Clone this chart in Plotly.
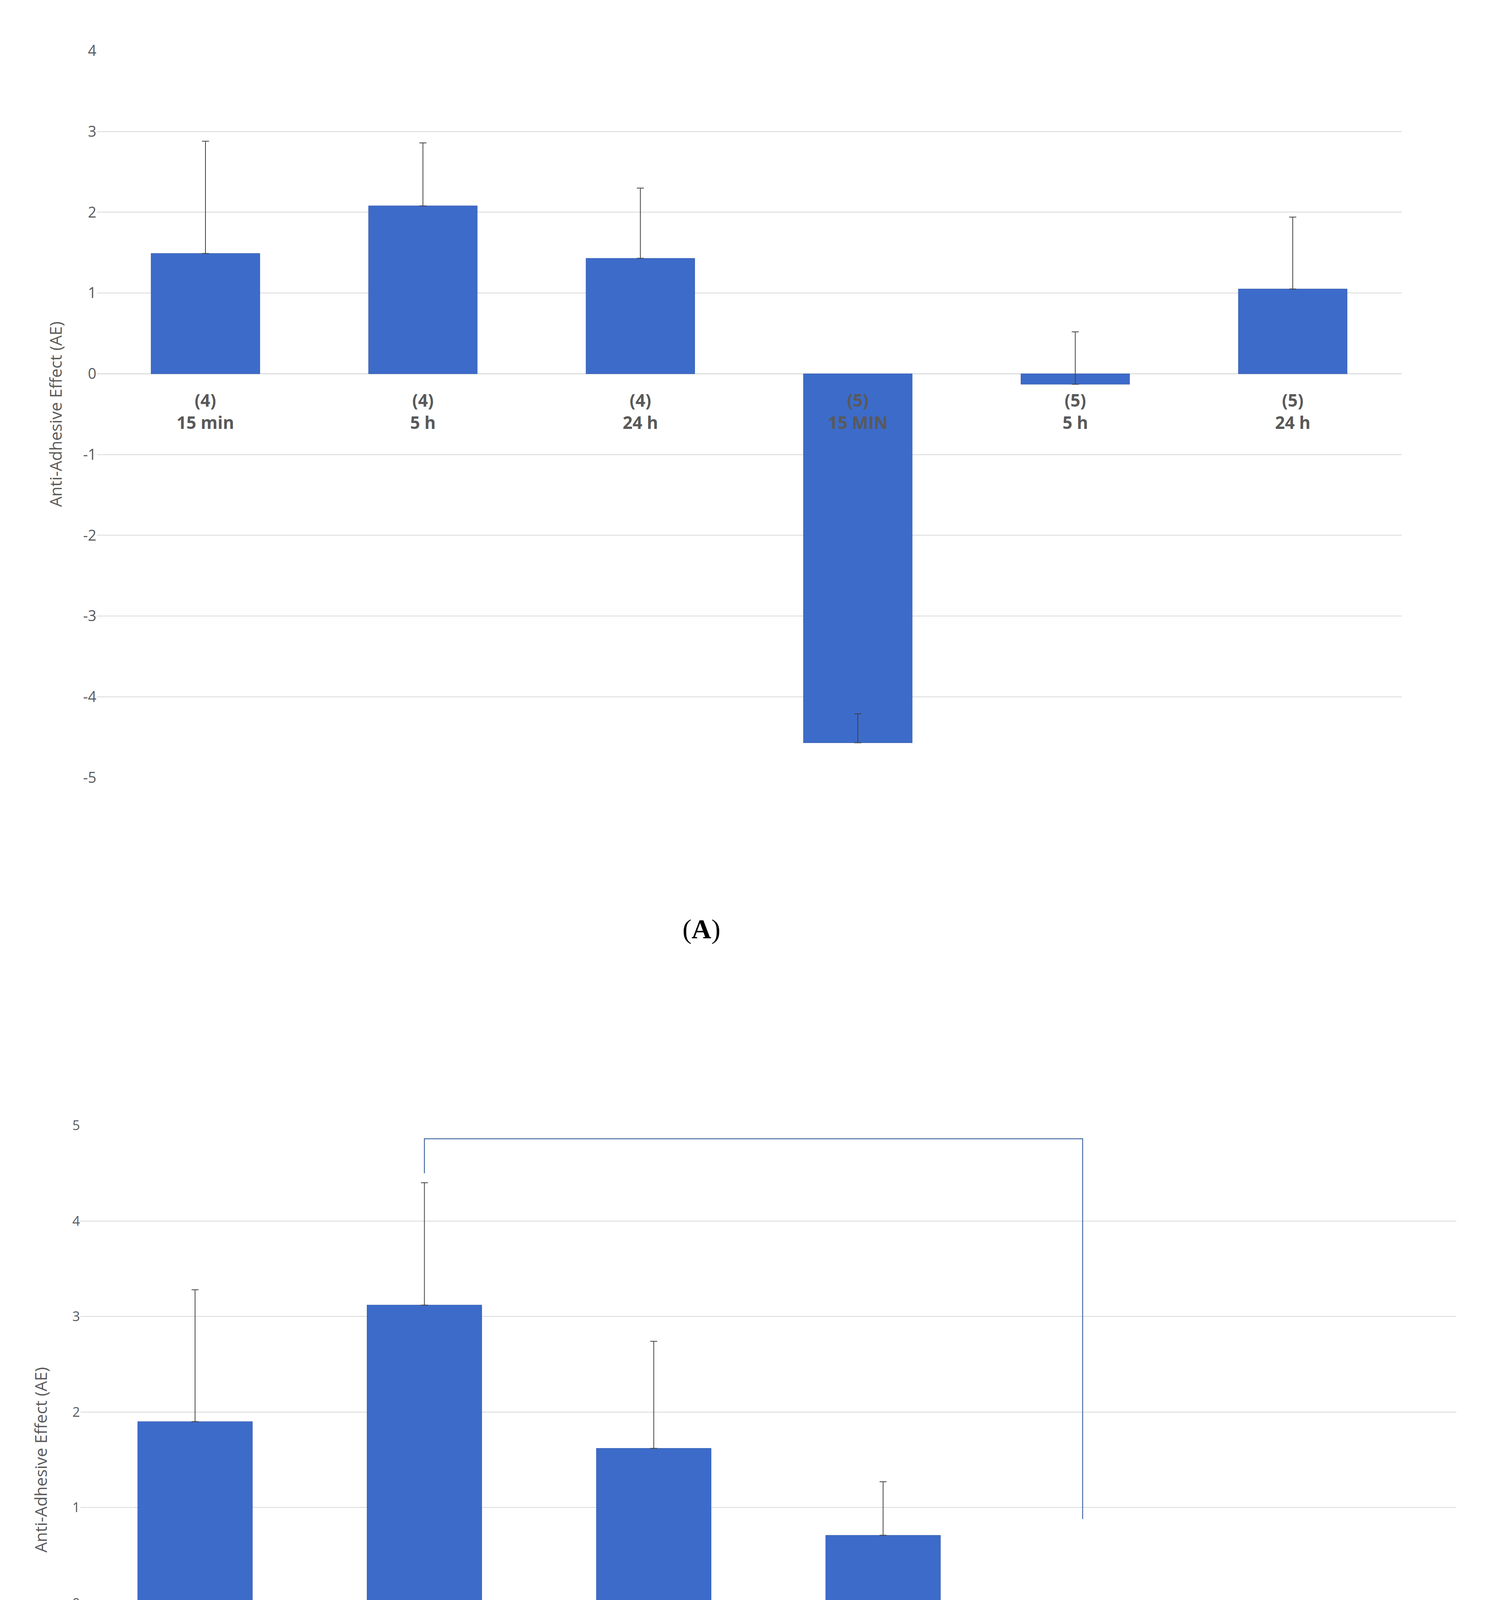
import plotly.graph_objects as go

cats_top = ["(4)", "(4)", "(4)", "(5)", "(5)", "(5)"]
cats_bot = ["15 min", "5 h", "24 h", "15 MIN", "5 h", "24 h"]
vals_a = [1.49, 2.08, 1.43, -4.57, -0.13, 1.05]
err_a = [1.39, 0.78, 0.87, 0.36, 0.65, 0.89]
vals_b = [1.90, 3.12, 1.62, 0.71, -1.08, -0.68]
err_b = [1.38, 1.28, 1.12, 0.56, 1.10, 0.67]
ticks_a = [-5, -4, -3, -2, -1, 0, 1, 2, 3, 4]
ticks_b = [-2, -1, 0, 1, 2, 3, 4, 5]
x = list(range(6))

fig = go.Figure()
bar_col = "#3d6bc9"
for xa, ya, v, e in [("x", "y", vals_a, err_a), ("x2", "y2", vals_b, err_b)]:
    fig.add_trace(go.Bar(x=x, y=v, xaxis=xa, yaxis=ya, width=0.5,
        marker=dict(color=bar_col, line=dict(color="#2f57a8", width=1)),
        error_y=dict(type="data", symmetric=False, array=e, arrayminus=[0]*6,
                     color="#404040", thickness=2, width=9),
        showlegend=False))

fig.add_trace(go.Scatter(x=[1, 1, 3.87, 3.87], y=[4.5, 4.86, 4.86, 0.88], xaxis="x2", yaxis="y2",
    mode="lines", line=dict(color="#4a6fa8", width=2.5), showlegend=False, hoverinfo="skip"))

gfont = dict(family="Open Sans", size=38, color="#595959")
ax = dict(showgrid=False, showticklabels=False, zeroline=False, range=[-0.5, 5.5], fixedrange=True)
ytitle = dict(text="Anti-Adhesive Effect (AE)", font=dict(family="Open Sans", size=42, color="#595959"), standoff=40)
fig.update_layout(
    width=3804, height=5000, margin=dict(l=0, r=0, t=0, b=0),
    plot_bgcolor="white", paper_bgcolor="white",
    xaxis=dict(ax, domain=[0.063, 0.941], anchor="y"),
    yaxis=dict(domain=[0.605, 0.981], range=[-5, 4], tickvals=ticks_a, ticktext=[str(t) for t in ticks_a],
               showgrid=True, gridcolor="#d9d9d9", gridwidth=2, zeroline=True, zerolinecolor="#d0d0d0",
               zerolinewidth=2, tickfont=gfont, ticks="", anchor="x", title=ytitle),
    xaxis2=dict(ax, domain=[0.052, 0.978], anchor="y2"),
    yaxis2=dict(domain=[0.079, 0.425], range=[-2, 5], tickvals=ticks_b, ticktext=[str(t) for t in ticks_b],
               showgrid=True, gridcolor="#d9d9d9", gridwidth=2, zeroline=True, zerolinecolor="#d0d0d0",
               zerolinewidth=2, tickfont=dict(gfont, size=34), ticks="", anchor="x2", title=ytitle),
)
ann = []
for xr, yr in [("x", "y"), ("x2", "y2")]:
    for i in x:
        ann.append(dict(x=i, y=0, xref=xr, yref=yr, yanchor="top", yshift=-35, showarrow=False,
                        text=f"<b>{cats_top[i]}<br>{cats_bot[i]}</b>",
                        font=dict(family="Open Sans", size=44, color="#595959")))
ann.append(dict(x=1.87, y=5.27, xref="x2", yref="y2", showarrow=False, text="p=0.0268*",
                font=dict(family="Liberation Serif", size=48, color="#222")))
ann.append(dict(x=0.47, y=1-740/1563, xref="paper", yref="paper", showarrow=False, text="(<b>A</b>)",
                font=dict(family="Liberation Serif", size=70, color="black")))
ann.append(dict(x=0.47, y=1-1545/1563, xref="paper", yref="paper", showarrow=False, text="(<b>B</b>)",
                font=dict(family="Liberation Serif", size=70, color="black")))
fig.update_layout(annotations=ann)
fig.write_html("out.html", config={"responsive": False})
